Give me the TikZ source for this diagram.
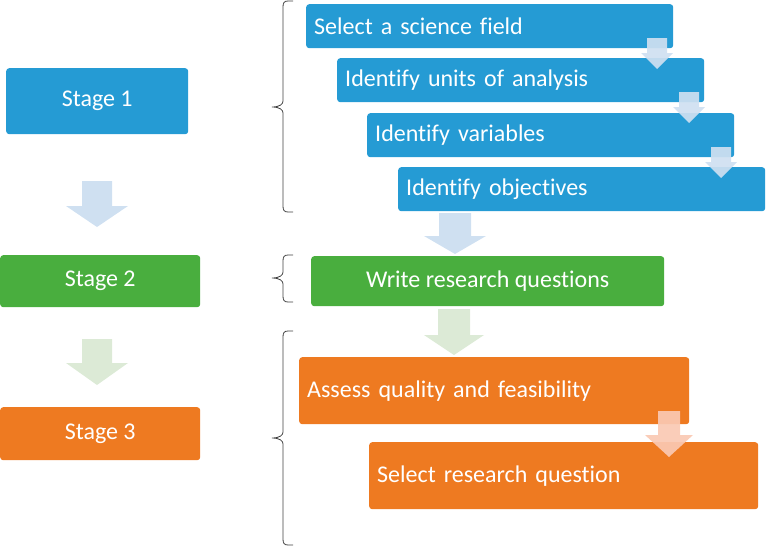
\documentclass[tikz,border=0pt]{standalone}
\usepackage{fontspec}
\setmainfont{Carlito}[Ligatures=NoCommon]
\definecolor{cblue}{HTML}{259BD4}
\definecolor{cgreen}{HTML}{49AE3E}
\definecolor{corange}{HTML}{EE7A21}
\definecolor{lblue}{HTML}{CFE0F1}
\definecolor{lgreen}{HTML}{DCEAD6}
\definecolor{lorange}{HTML}{FAC9B3}
\newcommand\blkarrow[7]{\fill[#1] (#2-#3,#4) -- (#2+#3,#4) -- (#2+#3,#6) -- (#2+#5,#6) -- (#2,#7) -- (#2-#5,#6) -- (#2-#3,#6) -- cycle;}
\newcommand\curlybrace[3]{\draw[bracestyle] (293,#1) -- (288,#1) .. controls (284,#1) and (283,#1+2) .. (283,#1+6) -- (283,#3-6) .. controls (283,#3-3) and (280,#3) .. (272,#3) .. controls (280,#3) and (283,#3+3) .. (283,#3+6) -- (283,#2-6) .. controls (283,#2-2) and (284,#2) .. (288,#2) -- (293,#2);}
\tikzset{
  box/.style={rounded corners=3pt, text=white, inner ysep=0pt, anchor=north west,
    font=\fontsize{24}{28}\selectfont},
  stagebox/.style={box, align=center},
  stepbox/.style={box, inner xsep=8pt, align=left},
  bracestyle/.style={draw=black!75, line width=0.8pt},
}
\begin{document}
\begin{tikzpicture}[x=1pt,y=-1pt]
\useasboundingbox (0,0) rectangle (766,546);
% left stages
\node[stagebox, fill=cblue, minimum width=182pt, minimum height=66pt] (st1) at (6,68) {Stage 1};
\node[stagebox, fill=cgreen, minimum width=200pt, minimum height=52pt] (st2) at (0,255) {Stage 2};
\node[stagebox, fill=corange, minimum width=200pt, minimum height=53pt] (st3) at (0,407) {Stage 3};
% stage 1 steps
\node[stepbox, fill=cblue, text width=351pt, minimum height=44pt] (s1) at (306,4) {Select a science field};
\node[stepbox, fill=cblue, text width=351pt, minimum height=44pt] (s2) at (337,58) {Identify units of analysis};
\node[stepbox, fill=cblue, text width=351pt, minimum height=44pt] (s3) at (367,113) {Identify variables};
\node[stepbox, fill=cblue, text width=351pt, minimum height=44pt] (s4) at (398,167) {Identify objectives};
% stage 2
\node[stagebox, fill=cgreen, minimum width=353pt, minimum height=50pt] (wq) at (311,256) {Write research questions};
% stage 3
\node[stepbox, fill=corange, text width=374pt, minimum height=67pt] (aq) at (299,357) {Assess quality and feasibility};
\node[stepbox, fill=corange, text width=373pt, minimum height=67pt] (sq) at (369,442) {Select research question};
% left arrows
\blkarrow{lblue}{97}{15}{181}{31}{206}{227}
\blkarrow{lgreen}{97}{15}{339}{31}{363}{385}
% small arrows
\blkarrow{lblue,opacity=0.92}{657}{10}{38}{16}{53}{69}
\blkarrow{lblue,opacity=0.92}{689}{10}{92}{16}{107}{123}
\blkarrow{lblue,opacity=0.92}{721}{10}{147}{16}{162}{178}
\blkarrow{lblue}{455}{16}{213}{31}{236}{254}
\blkarrow{lgreen}{454}{16}{309}{30}{335}{355}
\blkarrow{lorange,opacity=0.92}{669}{11}{411}{24}{435}{457}
% braces
\curlybrace{1}{212}{107}
\curlybrace{255}{302}{278}
\curlybrace{331}{545}{438}
\end{tikzpicture}
\end{document}
